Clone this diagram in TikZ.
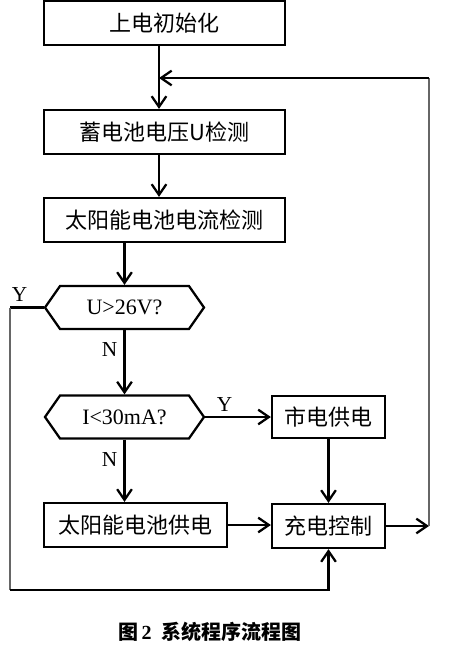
\documentclass[tikz,border=0pt]{standalone}
\usepackage{fontspec}
\setmainfont{Liberation Serif}
\newfontfamily\cjk{Noto Sans CJK SC}
\usetikzlibrary{arrows.meta,shapes.symbols}

\begin{document}
\begin{tikzpicture}[x=0.75pt, y=-0.75pt,
        >={Straight Barb[length=8pt, width=11pt]},
        line/.style={line width=1.7pt},
        thinline/.style={line width=0.8pt, black!60},
        box/.style={draw, line width=1.7pt, inner sep=0pt, minimum height=33pt,
                    font=\cjk\fontsize{16.5}{18}\selectfont},
        decision/.style={draw, line width=1.7pt, inner sep=0pt, shape=signal,
                    signal to=west and east, signal pointer angle=110,
                    minimum width=119.25pt, minimum height=32.25pt,
                    font=\fontsize{16.5}{18}\selectfont},
        yn/.style={font=\fontsize{16}{18}\selectfont, inner sep=0pt},
        captionfont/.style={font=\bfseries\fontsize{15}{17}\selectfont, inner sep=0pt}]

                            \useasboundingbox (0,0) rectangle (465,647);

                            \node[box, minimum width=180.75pt] (init) at (164.5,23) {上电初始化};
                            \node[box, minimum width=180.75pt] (batt) at (164.5,132) {蓄电池电压U检测};
                            \node[box, minimum width=180.75pt] (solar) at (164.5,220) {太阳能电池电流检测};
                            \node[decision] (q1) at (124.5,307.5) {U>26V?};
                            \node[decision] (q2) at (124.5,417) {I<30mA?};
                            \node[box, minimum width=84.75pt, minimum height=31.5pt] (grid) at (328.5,417) {市电供电};
                            \node[box, minimum width=137.25pt] (solarsup) at (135.5,525) {太阳能电池供电};
                            \node[box, minimum width=84.75pt] (charge) at (328.5,526) {充电控制};

                            \node[yn] (y1) at (19.5,295) {Y};
                            \node[yn] (n1) at (109.5,350) {N};
                            \node[yn] (y2) at (224.5,404.5) {Y};
                            \node[yn] (n2) at (109.5,460) {N};

                            \node[captionfont] (caption) at (210,632) {{\cjk 图}\,2\ \ {\cjk 系统程序流程图}};

                            \coordinate (loop) at (159,78);
                            \coordinate (corner) at (429,78);
                            \coordinate (ret) at (429,526);
                            \coordinate (ytop) at (10,307.5);
                            \coordinate (lft) at (10,590);

                            \draw[line,->] ([xshift=-4.125pt]init.south) -- ([xshift=-4.125pt]batt.north);
                            \draw[line,->] ([xshift=-4.125pt]batt.south) -- ([xshift=-4.125pt]solar.north);
                            \draw[line,->] (q1.north |- solar.south) -- (q1.north);
                            \draw[line,->] (q1.south) -- (q2.north);
                            \draw[line,->] (q2.east) -- (grid.west);
                            \draw[line,->] (q2.south) -- (q2.south |- solarsup.north);
                            \draw[line,->] (grid.south) -- (charge.north);
                            \draw[line,->] (solarsup.east) -- (solarsup.east -| charge.west);
                            \draw[line,->] (charge.east) -- (ret);
                            \draw[thinline] (ret) -- (corner);
                            \draw[line,->] (corner) -- (loop);
                            \draw[line] (q1.west) -- (ytop);
                            \draw[thinline] (ytop) -- (lft);
                            \draw[line,->] (lft) -| (charge.south);
                        \end{tikzpicture}
\end{document}
